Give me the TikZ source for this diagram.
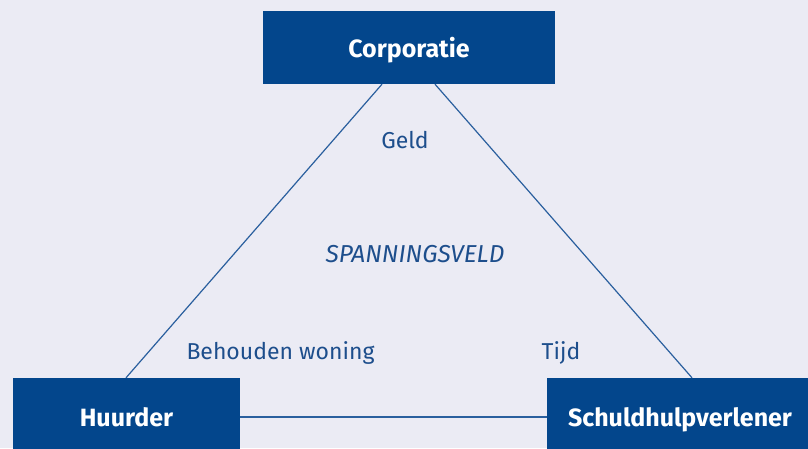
\documentclass[tikz,border=0pt]{standalone}
\usepackage{fontspec}
\setmainfont{Fira Sans}
\usetikzlibrary{calc}
\definecolor{bg}{HTML}{EBEBF4}
\definecolor{boxblue}{HTML}{03468C}
\definecolor{linkblue}{HTML}{2A5F9E}
\definecolor{labelblue}{HTML}{1D4E8C}
\begin{document}
\begin{tikzpicture}[x=1pt,y=-1pt,
  party/.style={fill=boxblue,text=white,font=\fontsize{25}{28}\selectfont\bfseries,inner sep=0pt,text depth=0pt},
  link/.style={draw=linkblue,line width=1.2pt},
  lbl/.style={text=labelblue,font=\fontsize{23}{26}\selectfont,inner sep=0pt}]
  \clip (0,0) rectangle (808,448);
  \fill[bg] (0,0) rectangle (808,448);
  % the three parties
  \node[party,minimum width=292pt,minimum height=73pt] (corp) at (409,47.5) {Corporatie};
  \node[party,minimum width=227pt,minimum height=78pt] (huur) at (126.5,417) {Huurder};
  \node[party,minimum width=266pt,minimum height=78pt] (schuld) at (680,417) {Schuldhulpverlener};
  % triangle of relations
  \draw[link] ([xshift=-27pt]corp.south) -- ([xshift=-0.5pt]huur.north);
  \draw[link] ([xshift=26pt]corp.south) -- ([xshift=12pt]schuld.north);
  \draw[link] (huur.east) -- (schuld.west);
  % labels inside the triangle
  \node[lbl] (geld) at (405,140) {Geld};
  \node[lbl,font=\fontsize{24.5}{28}\selectfont\itshape] (veld) at (415,254) {SPANNINGSVELD};
  \node[lbl] (woning) at (280.5,353) {Behouden woning};
  \node[lbl] (tijd) at (561,353) {Tijd};
\end{tikzpicture}
\end{document}
